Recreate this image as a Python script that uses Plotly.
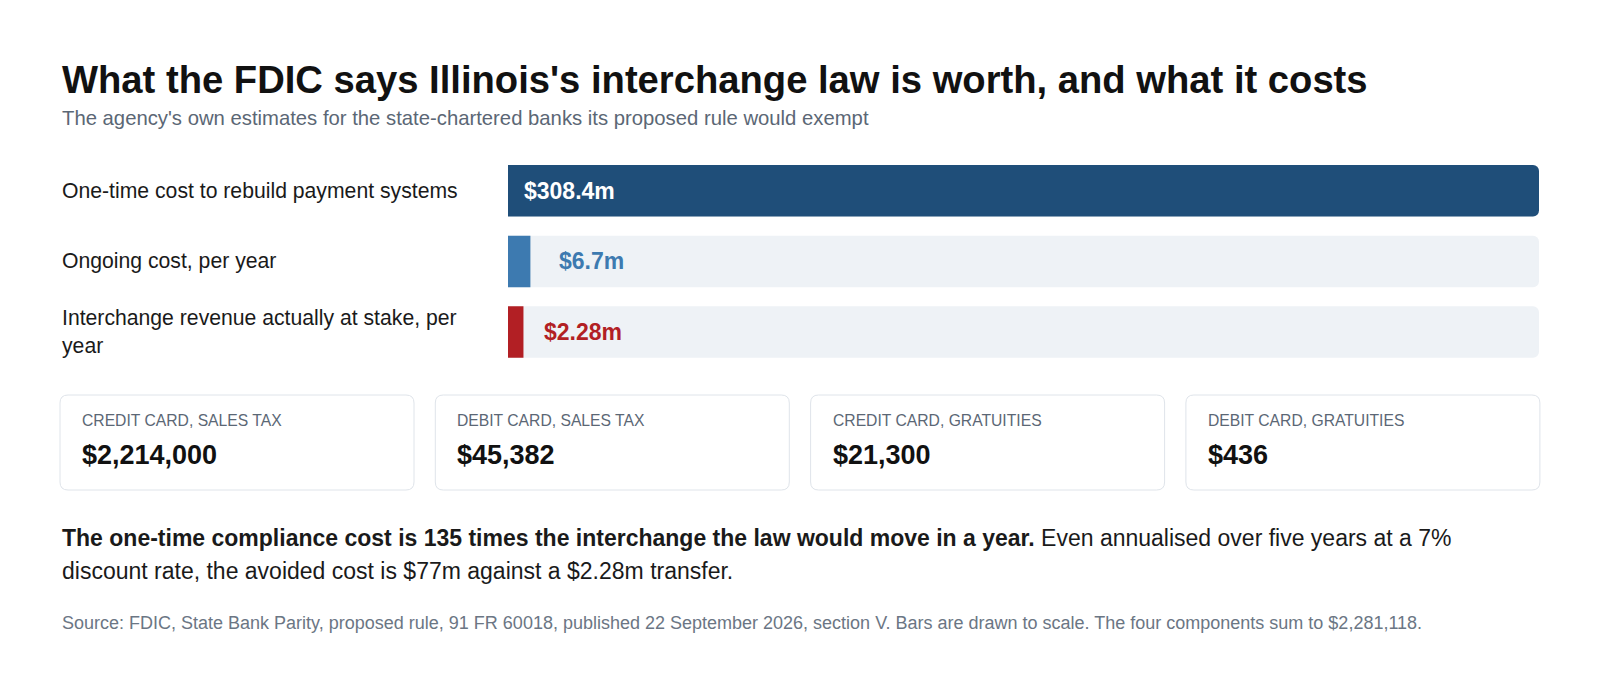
import plotly.graph_objects as go

W, H = 1600, 700
FONT = 'Liberation Sans, Arial, Helvetica, sans-serif'

# data
rows = ['One-time cost to rebuild payment systems', 'Ongoing cost, per year',
        'Interchange revenue actually at stake, per<br>year']
values_m = [308.4, 6.7, 2.28]
bar_colors = ['#1f4e79', '#3d7ab0', '#b21f24']

card_labels = ['CREDIT CARD, SALES TAX', 'DEBIT CARD, SALES TAX',
               'CREDIT CARD, GRATUITIES', 'DEBIT CARD, GRATUITIES']
card_values = [2214000, 45382, 21300, 436]

title = "What the FDIC says Illinois's interchange law is worth, and what it costs"
subtitle = "The agency's own estimates for the state-chartered banks its proposed rule would exempt"
note_lines = ["<b>The one-time compliance cost is 135 times the interchange the law would move in a year.</b>"
              " Even annualised over five years at a 7%",
              "discount rate, the avoided cost is $77m against a $2.28m transfer."]
source = ("Source: FDIC, State Bank Parity, proposed rule, 91 FR 60018, published 22 September 2026, "
          "section V. Bars are drawn to scale. The four components sum to $2,281,118.")


def px(x):
    return x / W


def py(y):
    return 1 - y / H


# tiny bars get a minimum visible width
min_frac = 0.015
vmax = max(values_m)
shown = [max(v, min_frac * vmax) for v in values_m]

fig = go.Figure()
# grey track behind every row, then the value bars
fig.add_trace(go.Bar(y=rows, x=[vmax] * len(rows), orientation='h', width=0.73, hoverinfo='skip',
                     marker=dict(color='#eef2f6', cornerradius=6, line_width=0)))
fig.add_trace(go.Bar(y=rows, x=shown, orientation='h', width=0.73, hoverinfo='skip',
                     marker=dict(color=bar_colors, cornerradius=6, line_width=0)))

fig.update_layout(
    width=W, height=H, margin=dict(l=0, r=0, t=0, b=0),
    paper_bgcolor='white', plot_bgcolor='white', showlegend=False, barmode='overlay',
    font=dict(family=FONT),
    xaxis=dict(domain=[px(508), px(1539)], range=[0, vmax], visible=False, fixedrange=True),
    yaxis=dict(domain=[py(367.3), py(155.5)], autorange='reversed', visible=False,
               categoryorder='array', categoryarray=rows, fixedrange=True),
)

# row labels
for r in rows:
    fig.add_annotation(x=px(60), xref='paper', y=r, yref='y', text=r, showarrow=False,
                       xanchor='left', yanchor='middle', align='left',
                       font=dict(size=21.2, color='#1a1a1a'))

# value labels
label_shift = [14, 27, 19]
for i, (r, v, d) in enumerate(zip(rows, values_m, shown)):
    inside = v == vmax
    fig.add_annotation(x=0 if inside else d, y=r, text=f'${v:g}m', showarrow=False,
                       xanchor='left', yanchor='middle', xshift=label_shift[i],
                       font=dict(size=23, color='white' if inside else bar_colors[i], weight='bold'))

# title block
fig.add_annotation(x=px(60), y=py(79), xref='paper', yref='paper', text=f'<b>{title}</b>',
                   showarrow=False, xanchor='left', yanchor='middle', font=dict(size=38.2, color='#111111'))
fig.add_annotation(x=px(60), y=py(118.5), xref='paper', yref='paper', text=subtitle,
                   showarrow=False, xanchor='left', yanchor='middle', font=dict(size=20.3, color='#5b6775'))

# cards
card_w, gap, r_px = 354, 21.3, 8
top, bot = 395, 490
for i, (lab, val) in enumerate(zip(card_labels, card_values)):
    x0 = 60 + i * (card_w + gap)
    x1 = x0 + card_w
    rx, ry = r_px / W, r_px / H
    X0, X1, Y0, Y1 = px(x0), px(x1), py(bot), py(top)
    path = (f'M{X0 + rx},{Y0} L{X1 - rx},{Y0} Q{X1},{Y0} {X1},{Y0 + ry} L{X1},{Y1 - ry} '
            f'Q{X1},{Y1} {X1 - rx},{Y1} L{X0 + rx},{Y1} Q{X0},{Y1} {X0},{Y1 - ry} '
            f'L{X0},{Y0 + ry} Q{X0},{Y0} {X0 + rx},{Y0} Z')
    fig.add_shape(type='path', path=path, xref='paper', yref='paper',
                  line=dict(color='#dfe4ea', width=1), fillcolor='white', layer='below')
    fig.add_annotation(x=px(x0 + 20), y=py(420.5), xref='paper', yref='paper', text=lab,
                       showarrow=False, xanchor='left', yanchor='middle',
                       font=dict(size=15.7, color='#5b6775'))
    fig.add_annotation(x=px(x0 + 20), y=py(455), xref='paper', yref='paper', text=f'<b>${val:,}</b>',
                       showarrow=False, xanchor='left', yanchor='middle',
                       font=dict(size=27, color='#111111'))

# takeaway and source
for line, yy in zip(note_lines, [538, 571]):
    fig.add_annotation(x=px(60), y=py(yy), xref='paper', yref='paper', text=line, showarrow=False,
                       xanchor='left', yanchor='middle', font=dict(size=23, color='#1a1a1a'))
fig.add_annotation(x=px(60), y=py(623), xref='paper', yref='paper', text=source,
                   showarrow=False, xanchor='left', yanchor='middle',
                   font=dict(size=18, color='#6b7684'))

fig.write_html("out.html", config={'displayModeBar': False},
               post_script="document.body.style.margin='0';")
